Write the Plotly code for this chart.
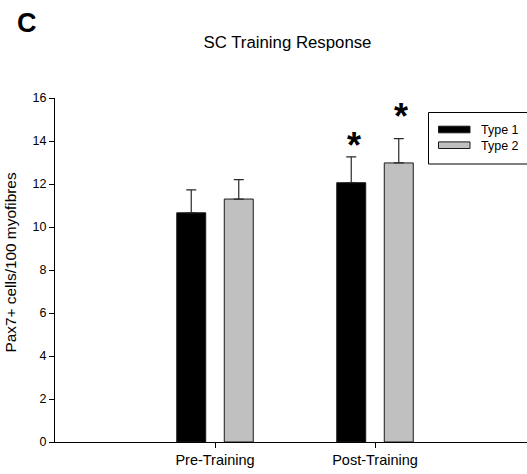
import plotly.graph_objects as go

categories = ["Pre-Training", "Post-Training"]
series_names = ["Type 1", "Type 2"]
type1_mean = [10.66, 12.06]
type1_sem = [1.07, 1.20]
type2_mean = [11.30, 12.98]
type2_sem = [0.90, 1.13]
sig_labels = ["", "*"]
sig_y_type1 = [None, 14.09]
sig_y_type2 = [None, 15.40]

series_colors = ["black", "#c0c0c0"]

W, H = 527, 474
ML, MR, MT, MB = 55, 0, 98, 32
PW, PH = W - ML - MR, H - MT - MB


def px_x(p):
    return (p - ML) / PW


def px_y(p):
    return 1 - (p - MT) / PH


x_idx = list(range(len(categories)))
bargap = 0.406
bargroupgap = 0.39
slot = (1 - bargap) / 2
off = slot / 2

FONT = "Liberation Sans, Arial, sans-serif"

fig = go.Figure()
for name, means, sems, col in ((series_names[0], type1_mean, type1_sem, series_colors[0]),
                               (series_names[1], type2_mean, type2_sem, series_colors[1])):
    fig.add_trace(go.Bar(
        name=name, x=x_idx, y=means, showlegend=False,
        marker=dict(color=col, line=dict(color="#1a1a1a", width=1)),
        error_y=dict(type="data", array=sems, symmetric=False, arrayminus=[0] * len(sems),
                     color="#2a2a2a", thickness=1.2, width=5),
    ))

annotations = []
for i, lab in enumerate(sig_labels):
    if lab:
        for yv, dx in ((sig_y_type1[i], -off), (sig_y_type2[i], off)):
            annotations.append(dict(x=i + dx + 0.015, y=yv, xref="x", yref="y", text="<b>" + lab + "</b>",
                                    showarrow=False, yanchor="middle", yshift=-6,
                                    font=dict(family=FONT, size=36, color="black")))

# panel letter
annotations.append(dict(x=px_x(15), y=px_y(23), xref="paper", yref="paper", text="<b>C</b>",
                        showarrow=False, xanchor="left", yanchor="middle",
                        font=dict(family=FONT, size=27, color="black")))

# y-axis title
annotations.append(dict(x=px_x(9.5), y=px_y(263), xref="paper", yref="paper",
                        text="Pax7+ cells/100 myofibres", textangle=-90,
                        showarrow=False, xanchor="center", yanchor="middle",
                        font=dict(family=FONT, size=15.4, color="black")))

# legend (drawn manually to get wide swatches like the original)
shapes = [dict(type="rect", xref="paper", yref="paper",
               x0=px_x(428.5), x1=px_x(545), y0=px_y(164), y1=px_y(112.5),
               line=dict(color="black", width=1), fillcolor="white", layer="above")]
leg_rows = [129.5, 145.2]
for name, col, yc in zip(series_names, series_colors, leg_rows):
    shapes.append(dict(type="rect", xref="paper", yref="paper",
                       x0=px_x(438.5), x1=px_x(470), y0=px_y(yc + 3.3), y1=px_y(yc - 3.3),
                       line=dict(color="#1a1a1a", width=1), fillcolor=col, layer="above"))
    annotations.append(dict(x=px_x(478.5), y=px_y(yc + 0.5), xref="paper", yref="paper", text=name,
                            showarrow=False, xanchor="left", yanchor="middle",
                            font=dict(family=FONT, size=12.5, color="black")))

fig.update_layout(
    width=W, height=H,
    margin=dict(l=ML, r=MR, t=MT, b=MB, autoexpand=False),
    paper_bgcolor="white", plot_bgcolor="white",
    barmode="group", bargap=bargap, bargroupgap=bargroupgap,
    font=dict(family=FONT, size=12, color="black"),
    title=dict(text="SC Training Response", x=287.5 / W, xanchor="center",
               y=1 - 42 / H, yanchor="middle", font=dict(family=FONT, size=16.8, color="black")),
    showlegend=False,
    annotations=annotations,
    shapes=shapes,
    xaxis=dict(range=[-1, 1.95], tickmode="array", tickvals=x_idx, ticktext=categories,
               showline=True, linecolor="black", linewidth=1, ticks="outside", ticklen=5,
               tickcolor="black", showgrid=False, zeroline=False, automargin=False,
               tickfont=dict(family=FONT, size=14.5, color="black")),
    yaxis=dict(range=[0, 16], tickmode="linear", dtick=2, tick0=0,
               showline=True, linecolor="black", linewidth=1, ticks="outside", ticklen=5,
               tickcolor="black", showgrid=False, zeroline=False, automargin=False,
               tickfont=dict(family=FONT, size=12.5, color="black")),
)

fig.write_html("out.html", config={"displayModeBar": False})
with open("out.html", "r", encoding="utf-8") as f:
    html = f.read()
html = html.replace("<head>", "<head><style>html,body{margin:0;padding:0;overflow:hidden;}</style>", 1)
with open("out.html", "w", encoding="utf-8") as f:
    f.write(html)
